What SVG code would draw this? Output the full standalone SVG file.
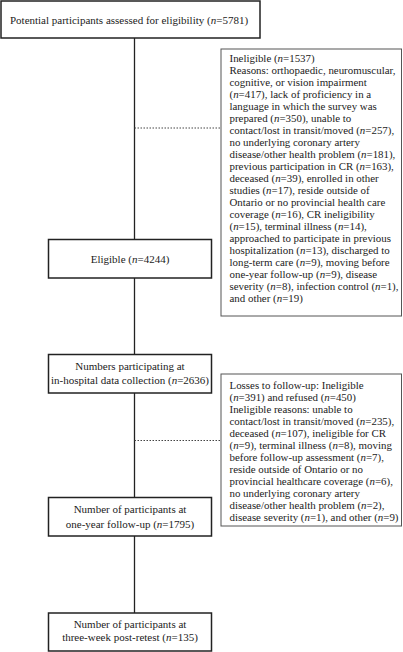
<svg xmlns="http://www.w3.org/2000/svg" width="403" height="652" viewBox="0 0 403 652">
<style>
.main{fill:#fff;stroke:#222;stroke-width:1.5}
.side{fill:#fff;stroke:#555;stroke-width:1}
.t{font-family:"Liberation Serif","Times New Roman",serif;font-size:11px;fill:#222}
.s{font-size:10.9px}
.c{text-anchor:middle}
.conn{stroke:#222;stroke-width:1.3;fill:none}
.dot{stroke:#444;stroke-width:1;stroke-dasharray:1.5,1.5;fill:none}
</style>
<g id="connectors">
<line class="conn" x1="134.5" y1="38" x2="134.5" y2="613"/>
<line class="dot" x1="134.5" y1="128" x2="221" y2="128"/>
<line class="dot" x1="134.5" y1="440.5" x2="221" y2="440.5"/>
</g>
<g id="n1">
<rect class="main" x="1" y="1" width="259" height="37"/>
<text class="t c" x="129" y="24">Potential participants assessed for eligibility (<tspan font-style="italic">n</tspan>=5781)</text>
</g>
<g id="n2">
<rect class="side" x="221" y="49" width="180.5" height="267"/>
<text class="t s" x="229.5" y="62">Ineligible (<tspan font-style="italic">n</tspan>=1537)</text>
<text class="t s" x="229.5" y="74">Reasons: orthopaedic, neuromuscular,</text>
<text class="t s" x="229.5" y="86">cognitive, or vision impairment</text>
<text class="t s" x="229.5" y="98">(<tspan font-style="italic">n</tspan>=417), lack of proficiency in a</text>
<text class="t s" x="229.5" y="110">language in which the survey was</text>
<text class="t s" x="229.5" y="122">prepared (<tspan font-style="italic">n</tspan>=350), unable to</text>
<text class="t s" x="229.5" y="134">contact/lost in transit/moved (<tspan font-style="italic">n</tspan>=257),</text>
<text class="t s" x="229.5" y="146">no underlying coronary artery</text>
<text class="t s" x="229.5" y="158">disease/other health problem (<tspan font-style="italic">n</tspan>=181),</text>
<text class="t s" x="229.5" y="170">previous participation in CR (<tspan font-style="italic">n</tspan>=163),</text>
<text class="t s" x="229.5" y="182">deceased (<tspan font-style="italic">n</tspan>=39), enrolled in other</text>
<text class="t s" x="229.5" y="194">studies (<tspan font-style="italic">n</tspan>=17), reside outside of</text>
<text class="t s" x="229.5" y="206">Ontario or no provincial health care</text>
<text class="t s" x="229.5" y="218">coverage (<tspan font-style="italic">n</tspan>=16), CR ineligibility</text>
<text class="t s" x="229.5" y="230">(<tspan font-style="italic">n</tspan>=15), terminal illness (<tspan font-style="italic">n</tspan>=14),</text>
<text class="t s" x="229.5" y="242">approached to participate in previous</text>
<text class="t s" x="229.5" y="254">hospitalization (<tspan font-style="italic">n</tspan>=13), discharged to</text>
<text class="t s" x="229.5" y="266">long-term care (<tspan font-style="italic">n</tspan>=9), moving before</text>
<text class="t s" x="229.5" y="278">one-year follow-up (<tspan font-style="italic">n</tspan>=9), disease</text>
<text class="t s" x="229.5" y="290">severity (<tspan font-style="italic">n</tspan>=8), infection control (<tspan font-style="italic">n</tspan>=1),</text>
<text class="t s" x="229.5" y="302">and other (<tspan font-style="italic">n</tspan>=19)</text>
</g>
<g id="n3">
<rect class="main" x="48.5" y="239.5" width="163" height="38.5"/>
<text class="t c" x="130" y="262.5">Eligible (<tspan font-style="italic">n</tspan>=4244)</text>
</g>
<g id="n4">
<rect class="main" x="48.5" y="354.5" width="163" height="38.5"/>
<text class="t c" x="130" y="370">Numbers participating at</text>
<text class="t c" x="130" y="384">in-hospital data collection (<tspan font-style="italic">n</tspan>=2636)</text>
</g>
<g id="n5">
<rect class="side" x="221" y="374" width="180.5" height="152"/>
<text class="t s" x="229.5" y="389">Losses to follow-up: Ineligible</text>
<text class="t s" x="229.5" y="401">(<tspan font-style="italic">n</tspan>=391) and refused (<tspan font-style="italic">n</tspan>=450)</text>
<text class="t s" x="229.5" y="413">Ineligible reasons: unable to</text>
<text class="t s" x="229.5" y="425">contact/lost in transit/moved (<tspan font-style="italic">n</tspan>=235),</text>
<text class="t s" x="229.5" y="437">deceased (<tspan font-style="italic">n</tspan>=107), ineligible for CR</text>
<text class="t s" x="229.5" y="449">(<tspan font-style="italic">n</tspan>=9), terminal illness (<tspan font-style="italic">n</tspan>=8), moving</text>
<text class="t s" x="229.5" y="461">before follow-up assessment (<tspan font-style="italic">n</tspan>=7),</text>
<text class="t s" x="229.5" y="473">reside outside of Ontario or no</text>
<text class="t s" x="229.5" y="485">provincial healthcare coverage (<tspan font-style="italic">n</tspan>=6),</text>
<text class="t s" x="229.5" y="497">no underlying coronary artery</text>
<text class="t s" x="229.5" y="509">disease/other health problem (<tspan font-style="italic">n</tspan>=2),</text>
<text class="t s" x="229.5" y="521">disease severity (<tspan font-style="italic">n</tspan>=1), and other (<tspan font-style="italic">n</tspan>=9)</text>
</g>
<g id="n6">
<rect class="main" x="48.5" y="497.5" width="163" height="38.5"/>
<text class="t c" x="130" y="513">Number of participants at</text>
<text class="t c" x="130" y="527.5">one-year follow-up (<tspan font-style="italic">n</tspan>=1795)</text>
</g>
<g id="n7">
<rect class="main" x="48.5" y="613" width="163" height="38"/>
<text class="t c" x="130" y="628">Number of participants at</text>
<text class="t c" x="130" y="641">three-week post-retest (<tspan font-style="italic">n</tspan>=135)</text>
</g>
</svg>
